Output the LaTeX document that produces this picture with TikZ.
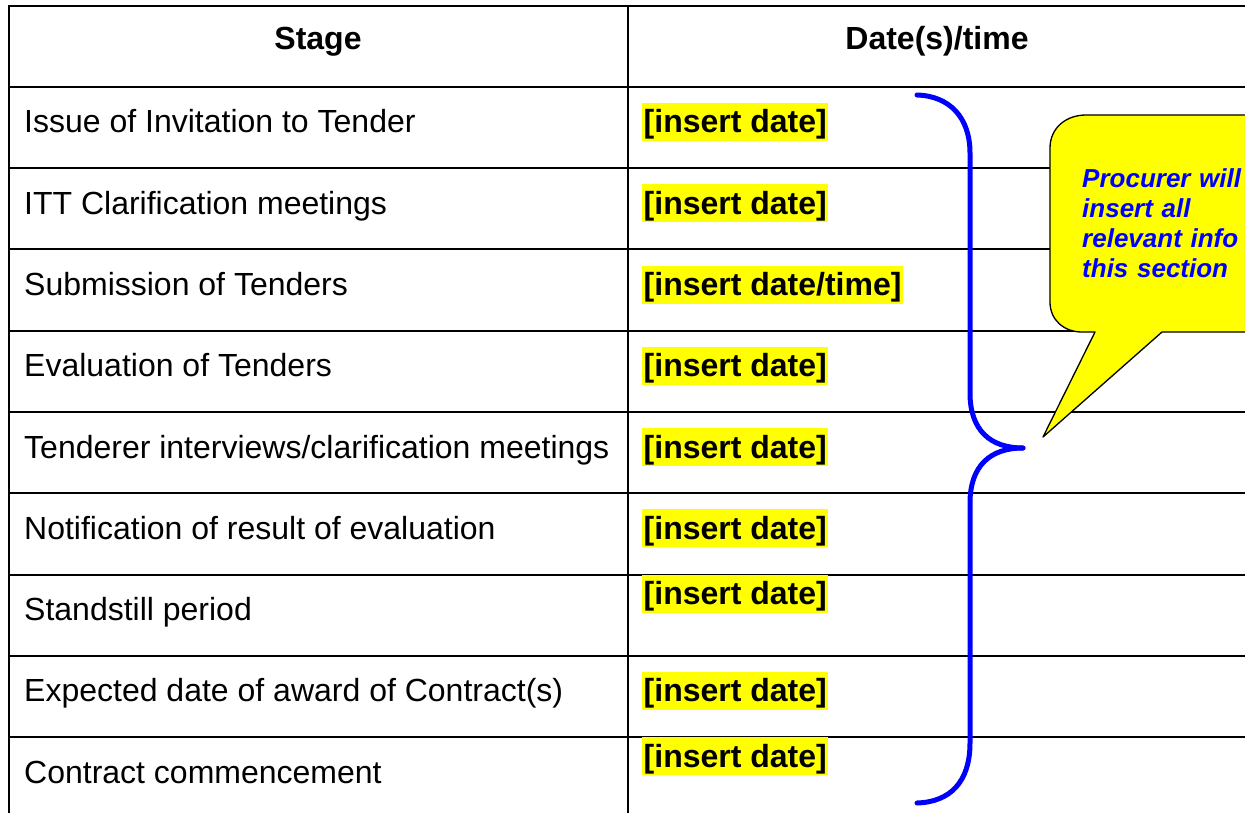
\documentclass[tikz,border=0pt]{standalone}
\usepackage{fontspec}
\setmainfont{Liberation Sans}
\definecolor{hlyellow}{RGB}{255,255,0}
\definecolor{bracecol}{RGB}{0,0,255}
\tikzset{
  tline/.style={line width=2pt, black},
  lbl/.style={anchor=base west, inner sep=0pt, font=\fontsize{32}{38}\selectfont},
  hdr/.style={anchor=base, inner sep=0pt, font=\fontsize{32}{38}\selectfont\bfseries},
  datebox/.style={anchor=base west, fill=hlyellow, inner ysep=0pt, inner xsep=1.5pt,
     text height=30pt, text depth=8pt, font=\fontsize{32}{38}\selectfont\bfseries},
  bracestyle/.style={line width=5pt, bracecol, line cap=round, line join=round},
  callout/.style={fill=hlyellow, draw=black, line width=1.3pt, line join=round},
  callouttext/.style={anchor=base west, inner sep=0pt, text width=170pt, align=left,
     text=bracecol, font=\fontsize{26}{30}\selectfont\bfseries\itshape}
}
\begin{document}
\begin{tikzpicture}[x=1pt,y=-1pt]
\useasboundingbox (0,0) rectangle (1245,813);
\begin{scope}
\clip (0,0) rectangle (1245,813);
% table grid
\draw[tline] (9,6) -- (1260,6);
\foreach \k in {0,...,8} {
  \draw[tline] (9,{87+\k*81.25}) -- (1260,{87+\k*81.25});
}
\draw[tline] (9,5) -- (9,820);
\draw[tline] (627.5,5) -- (627.5,820);
% header
\node[hdr] (h1) at (318,50) {Stage};
\node[hdr] (h2) at (937,50) {Date(s)/time};
% labels
\node[lbl] (l1) at (24,133) {Issue of Invitation to Tender};
\node[lbl] (l2) at (24,214.25) {ITT Clarification meetings};
\node[lbl] (l3) at (24,295.5) {Submission of Tenders};
\node[lbl] (l4) at (24,376.75) {Evaluation of Tenders};
\node[lbl] (l5) at (24,458) {Tenderer interviews/clarification meetings};
\node[lbl] (l6) at (24,539.25) {Notification of result of evaluation};
\node[lbl] (l7) at (24,620.5) {Standstill period};
\node[lbl] (l8) at (24,701.75) {Expected date of award of Contract(s)};
\node[lbl] (l9) at (24,783) {Contract commencement};
% dates
\node[datebox] (d1) at (642,133) {[insert date]};
\node[datebox] (d2) at (642,214.25) {[insert date]};
\node[datebox] (d3) at (642,295.5) {[insert date/time]};
\node[datebox] (d4) at (642,376.75) {[insert date]};
\node[datebox] (d5) at (642,458) {[insert date]};
\node[datebox] (d6) at (642,539.25) {[insert date]};
\node[datebox] (d7) at (642,604.5) {[insert date]};
\node[datebox] (d8) at (642,701.75) {[insert date]};
\node[datebox] (d9) at (642,767) {[insert date]};
% brace
\draw[bracestyle] (917,95) .. controls (950,96) and (970,118) .. (970,153)
  -- (970,393) .. controls (970,430) and (990,448) .. (1023,448);
\draw[bracestyle] (1023,448) .. controls (990,448) and (970,466) .. (970,503)
  -- (970,743) .. controls (970,782) and (950,802) .. (917,803);
% callout
\draw[callout] (1095,332) -- (1043,437) -- (1162,332) -- (1260,332) -- (1260,115)
  -- (1086,115) .. controls (1066,115) and (1050,128) .. (1050,148)
  -- (1050,302) .. controls (1050,320) and (1064,332) .. (1082,332) -- cycle;
\node[callouttext] (c) at (1082,188) {Procurer will\\insert all\\relevant info\\this section};
\end{scope}
\end{tikzpicture}
\end{document}
